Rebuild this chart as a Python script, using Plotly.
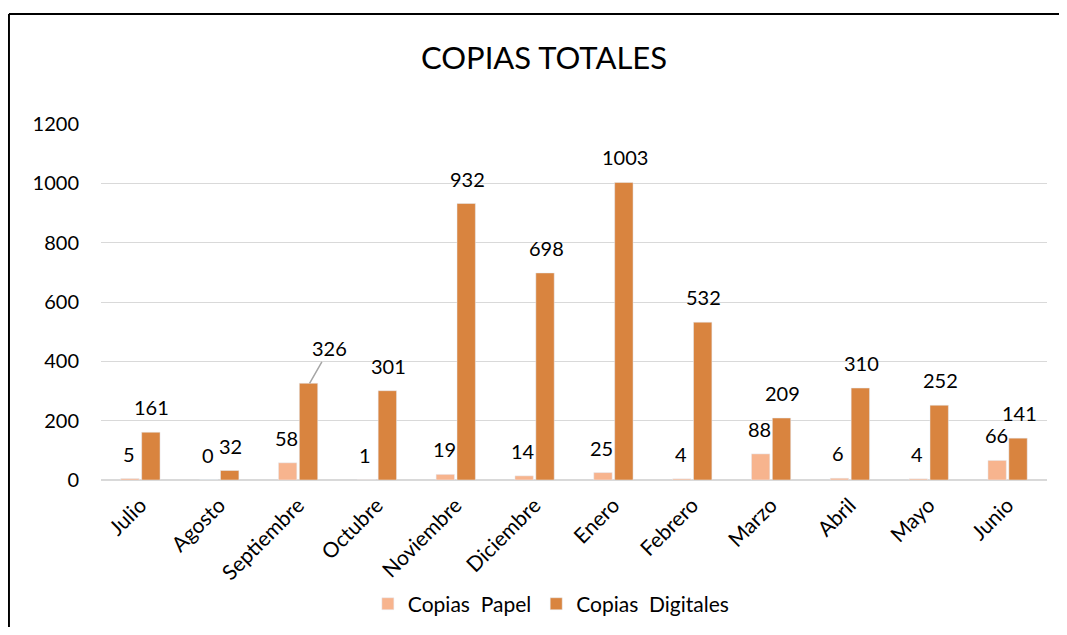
import plotly.graph_objects as go

meses = ["Julio", "Agosto", "Septiembre", "Octubre", "Noviembre", "Diciembre",
         "Enero", "Febrero", "Marzo", "Abril", "Mayo", "Junio"]
copias_papel = [5, 0, 58, 1, 19, 14, 25, 4, 88, 6, 4, 66]
copias_digitales = [161, 32, 326, 301, 932, 698, 1003, 532, 209, 310, 252, 141]

font = "Lato, 'Noto Sans', sans-serif"

fig = go.Figure()
fig.add_trace(go.Bar(x=meses, y=copias_papel, name="Copias  Papel",
                     marker_color="#F7B48E"))
fig.add_trace(go.Bar(x=meses, y=copias_digitales, name="Copias  Digitales",
                     marker_color="#D9843F"))

# etiquetas de datos al estilo Excel (encima de cada barra)
half = 11.5
for m, p, d in zip(meses, copias_papel, copias_digitales):
    fig.add_annotation(x=m, y=p, text=str(p), showarrow=False, xshift=-half, yshift=25,
                       yanchor="middle", font=dict(size=20, color="black"))
    if m == "Septiembre":
        fig.add_annotation(x=m, y=d, text=str(d), showarrow=True, arrowhead=0,
                           arrowcolor="#A6A6A6", arrowwidth=1.5, ax=20, ay=-35,
                           xshift=half, font=dict(size=20, color="black"))
    else:
        fig.add_annotation(x=m, y=d, text=str(d), showarrow=False, xshift=half, yshift=25,
                           yanchor="middle", font=dict(size=20, color="black"))

fig.update_layout(
    width=1051, height=619,
    margin=dict(l=93, r=12, t=116, b=147),
    paper_bgcolor="white", plot_bgcolor="white",
    font=dict(family=font, size=20, color="#000000"),
    title=dict(text="COPIAS TOTALES", x=0.51, xanchor="center", y=0.919, yanchor="middle",
               font=dict(size=31, family=font, color="#000000")),
    barmode="group", bargap=0.47, bargroupgap=0.12,
    showlegend=True,
    legend=dict(orientation="h", xref="container", yref="container",
                x=0.517, xanchor="center", y=0.037, yanchor="middle",
                font=dict(size=21), itemwidth=30),
    yaxis=dict(range=[0, 1200], dtick=200, showgrid=True, gridcolor="#D9D9D9", gridwidth=1,
               zeroline=True, zerolinecolor="#D9D9D9", zerolinewidth=2, automargin=False,
               showline=False, ticks="", tickfont=dict(size=20), ticklabelstandoff=21),
    xaxis=dict(tickangle=-45, showline=False, ticks="", tickfont=dict(size=21),
               ticklabelstandoff=8, automargin=False),
    shapes=[
        dict(type="line", xref="paper", yref="paper", x0=-0.0973, x1=1.02, y0=1.309, y1=1.309,
             line=dict(color="black", width=2)),
        dict(type="line", xref="paper", yref="paper", x0=-0.0973, x1=-0.0973, y0=1.309, y1=-0.45,
             line=dict(color="black", width=2)),
    ],
)

fig.write_html("out.html")
